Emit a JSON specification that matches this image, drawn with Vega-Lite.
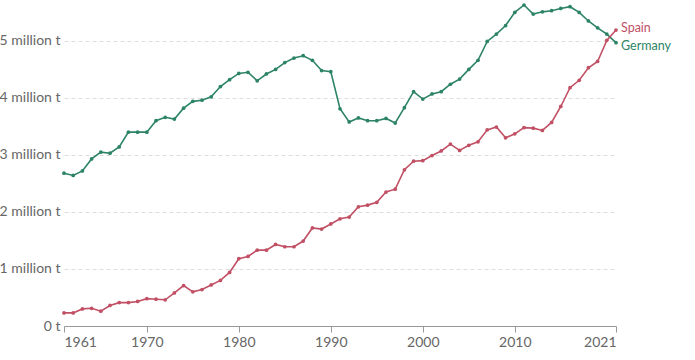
{
  "$schema": "https://vega.github.io/schema/vega-lite/v6.json",
  "autosize": {"type": "none"},
  "width": 552,
  "height": 321,
  "padding": {"left": 64, "top": 5, "right": 79, "bottom": 34},
  "config": {
    "view": {"stroke": null},
    "font": "Lato",
    "axis": {"labelFont": "Lato", "labelColor": "#666666", "labelFontSize": 14}
  },
  "data": {"values": [
    {"year":1961,"country":"Germany","value":2.68},{"year":1962,"country":"Germany","value":2.64},{"year":1963,"country":"Germany","value":2.72},{"year":1964,"country":"Germany","value":2.93},{"year":1965,"country":"Germany","value":3.05},{"year":1966,"country":"Germany","value":3.03},{"year":1967,"country":"Germany","value":3.14},{"year":1968,"country":"Germany","value":3.40},{"year":1969,"country":"Germany","value":3.40},{"year":1970,"country":"Germany","value":3.40},
    {"year":1971,"country":"Germany","value":3.60},{"year":1972,"country":"Germany","value":3.66},{"year":1973,"country":"Germany","value":3.63},{"year":1974,"country":"Germany","value":3.82},{"year":1975,"country":"Germany","value":3.94},{"year":1976,"country":"Germany","value":3.96},{"year":1977,"country":"Germany","value":4.02},{"year":1978,"country":"Germany","value":4.20},{"year":1979,"country":"Germany","value":4.32},{"year":1980,"country":"Germany","value":4.43},
    {"year":1981,"country":"Germany","value":4.45},{"year":1982,"country":"Germany","value":4.30},{"year":1983,"country":"Germany","value":4.42},{"year":1984,"country":"Germany","value":4.50},{"year":1985,"country":"Germany","value":4.62},{"year":1986,"country":"Germany","value":4.70},{"year":1987,"country":"Germany","value":4.74},{"year":1988,"country":"Germany","value":4.66},{"year":1989,"country":"Germany","value":4.48},{"year":1990,"country":"Germany","value":4.46},
    {"year":1991,"country":"Germany","value":3.81},{"year":1992,"country":"Germany","value":3.58},{"year":1993,"country":"Germany","value":3.65},{"year":1994,"country":"Germany","value":3.60},{"year":1995,"country":"Germany","value":3.60},{"year":1996,"country":"Germany","value":3.64},{"year":1997,"country":"Germany","value":3.56},{"year":1998,"country":"Germany","value":3.83},{"year":1999,"country":"Germany","value":4.11},{"year":2000,"country":"Germany","value":3.98},
    {"year":2001,"country":"Germany","value":4.07},{"year":2002,"country":"Germany","value":4.11},{"year":2003,"country":"Germany","value":4.24},{"year":2004,"country":"Germany","value":4.33},{"year":2005,"country":"Germany","value":4.50},{"year":2006,"country":"Germany","value":4.66},{"year":2007,"country":"Germany","value":4.99},{"year":2008,"country":"Germany","value":5.12},{"year":2009,"country":"Germany","value":5.27},{"year":2010,"country":"Germany","value":5.50},
    {"year":2011,"country":"Germany","value":5.63},{"year":2012,"country":"Germany","value":5.47},{"year":2013,"country":"Germany","value":5.51},{"year":2014,"country":"Germany","value":5.53},{"year":2015,"country":"Germany","value":5.57},{"year":2016,"country":"Germany","value":5.60},{"year":2017,"country":"Germany","value":5.50},{"year":2018,"country":"Germany","value":5.35},{"year":2019,"country":"Germany","value":5.23},{"year":2020,"country":"Germany","value":5.12},{"year":2021,"country":"Germany","value":4.97},
    {"year":1961,"country":"Spain","value":0.23},{"year":1962,"country":"Spain","value":0.23},{"year":1963,"country":"Spain","value":0.30},{"year":1964,"country":"Spain","value":0.31},{"year":1965,"country":"Spain","value":0.26},{"year":1966,"country":"Spain","value":0.36},{"year":1967,"country":"Spain","value":0.41},{"year":1968,"country":"Spain","value":0.41},{"year":1969,"country":"Spain","value":0.43},{"year":1970,"country":"Spain","value":0.48},
    {"year":1971,"country":"Spain","value":0.47},{"year":1972,"country":"Spain","value":0.46},{"year":1973,"country":"Spain","value":0.58},{"year":1974,"country":"Spain","value":0.71},{"year":1975,"country":"Spain","value":0.60},{"year":1976,"country":"Spain","value":0.64},{"year":1977,"country":"Spain","value":0.72},{"year":1978,"country":"Spain","value":0.80},{"year":1979,"country":"Spain","value":0.94},{"year":1980,"country":"Spain","value":1.18},
    {"year":1981,"country":"Spain","value":1.22},{"year":1982,"country":"Spain","value":1.33},{"year":1983,"country":"Spain","value":1.33},{"year":1984,"country":"Spain","value":1.43},{"year":1985,"country":"Spain","value":1.39},{"year":1986,"country":"Spain","value":1.39},{"year":1987,"country":"Spain","value":1.49},{"year":1988,"country":"Spain","value":1.72},{"year":1989,"country":"Spain","value":1.70},{"year":1990,"country":"Spain","value":1.79},
    {"year":1991,"country":"Spain","value":1.88},{"year":1992,"country":"Spain","value":1.91},{"year":1993,"country":"Spain","value":2.09},{"year":1994,"country":"Spain","value":2.12},{"year":1995,"country":"Spain","value":2.17},{"year":1996,"country":"Spain","value":2.35},{"year":1997,"country":"Spain","value":2.40},{"year":1998,"country":"Spain","value":2.74},{"year":1999,"country":"Spain","value":2.89},{"year":2000,"country":"Spain","value":2.90},
    {"year":2001,"country":"Spain","value":2.99},{"year":2002,"country":"Spain","value":3.07},{"year":2003,"country":"Spain","value":3.19},{"year":2004,"country":"Spain","value":3.08},{"year":2005,"country":"Spain","value":3.17},{"year":2006,"country":"Spain","value":3.23},{"year":2007,"country":"Spain","value":3.44},{"year":2008,"country":"Spain","value":3.49},{"year":2009,"country":"Spain","value":3.30},{"year":2010,"country":"Spain","value":3.37},
    {"year":2011,"country":"Spain","value":3.48},{"year":2012,"country":"Spain","value":3.47},{"year":2013,"country":"Spain","value":3.43},{"year":2014,"country":"Spain","value":3.57},{"year":2015,"country":"Spain","value":3.85},{"year":2016,"country":"Spain","value":4.18},{"year":2017,"country":"Spain","value":4.31},{"year":2018,"country":"Spain","value":4.53},{"year":2019,"country":"Spain","value":4.64},{"year":2020,"country":"Spain","value":5.01},{"year":2021,"country":"Spain","value":5.19}
  ]},
  "encoding": {
    "x": {
      "field": "year", "type": "quantitative",
      "scale": {"domain": [1961, 2021], "nice": false, "zero": false},
      "axis": {
        "title": null, "values": [1961, 1970, 1980, 1990, 2000, 2010, 2021], "format": "d",
        "grid": false, "domainColor": "#999999", "tickColor": "#999999", "tickSize": 6,
        "labelPadding": 3, "labelFlush": true
      }
    },
    "y": {
      "field": "value", "type": "quantitative",
      "scale": {"domain": [0, 5.63], "nice": false},
      "axis": {
        "title": null, "values": [0, 1, 2, 3, 4, 5],
        "labelExpr": "datum.value == 0 ? '0 t' : datum.value + ' million t'",
        "domain": false, "ticks": false, "labelPadding": 4, "labelBaseline": "middle",
        "grid": true, "gridColor": "#dddddd", "gridDash": [4, 3], "gridWidth": 1
      }
    },
    "color": {
      "field": "country", "type": "nominal",
      "scale": {"domain": ["Germany", "Spain"], "range": ["#2C8465", "#C15065"]},
      "legend": null
    }
  },
  "layer": [
    {"mark": {"type": "line", "strokeWidth": 1.6}},
    {"mark": {"type": "point", "filled": true, "size": 14, "opacity": 1}},
    {
      "transform": [{"filter": "datum.year == 2021 && datum.country == 'Spain'"}],
      "mark": {"type": "text", "align": "left", "dx": 5, "dy": -2, "fontSize": 12.5, "font": "Lato", "baseline": "middle"},
      "encoding": {"text": {"field": "country"}}
    },
    {
      "transform": [{"filter": "datum.year == 2021 && datum.country == 'Germany'"}],
      "mark": {"type": "text", "align": "left", "dx": 5, "dy": 3, "fontSize": 12.5, "font": "Lato", "baseline": "middle"},
      "encoding": {"text": {"field": "country"}}
    }
  ]
}
